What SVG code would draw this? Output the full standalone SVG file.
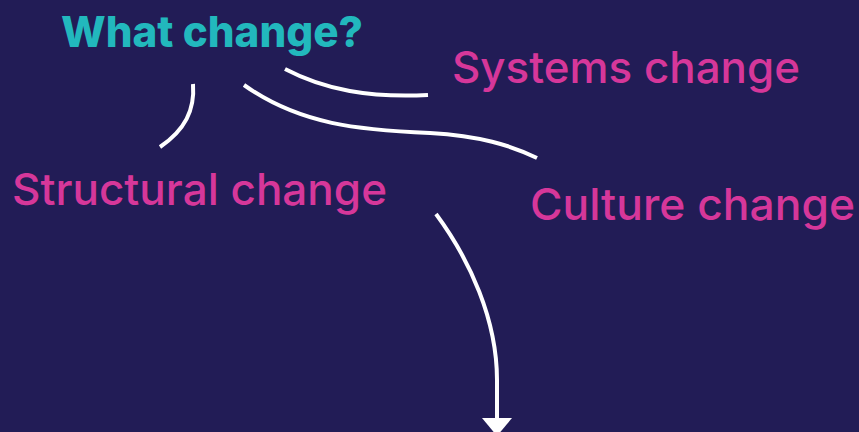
<svg xmlns="http://www.w3.org/2000/svg" width="859" height="432" viewBox="0 0 859 432">
<style>
.t{font-family:Inter,"Liberation Sans",Arial,sans-serif;font-size:44px;font-weight:500;fill:#d6379a}
.q{font-family:Inter,"Liberation Sans",Arial,sans-serif;font-size:43px;font-weight:800;fill:#22b8bd}
.c{fill:none;stroke:#ffffff;stroke-width:4}
</style>
<rect width="859" height="432" fill="#221c56"/>
<g id="what"><text class="q" x="61" y="47" textLength="302" lengthAdjust="spacingAndGlyphs">What change?</text></g>
<g id="systems"><text class="t" x="452" y="83" textLength="348" lengthAdjust="spacingAndGlyphs">Systems change</text></g>
<g id="structural"><text class="t" x="12" y="205" textLength="375" lengthAdjust="spacingAndGlyphs">Structural change</text></g>
<g id="culture"><text class="t" x="530" y="220" textLength="325" lengthAdjust="spacingAndGlyphs">Culture change</text></g>
<g id="connectors">
<path class="c" d="M193,84 C195,110 185,130 160,147"/>
<path class="c" d="M285,69 C325,90 370,98 428,95"/>
<path class="c" d="M244,85 C300,125 360,130 430,133 C480,136 510,145 537,158"/>
<path class="c" d="M436,214 C470,260 497,320 497,380 L497,420"/>
<polygon points="482,418 512,418 497,436" fill="#ffffff"/>
</g>
</svg>
